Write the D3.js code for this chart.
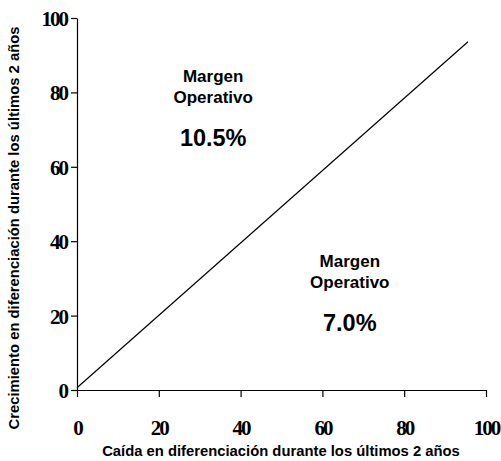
<!DOCTYPE html>
<html>
<head>
<meta charset="utf-8">
<script src="https://cdn.jsdelivr.net/npm/d3@7"></script>
<style>
  body { margin: 0; background: #fff; }
  .tick text { font-family: "Liberation Serif", serif; font-weight: bold; font-size: 21px; letter-spacing: -2px; fill: #000; }
  .axis-label { font-family: "Liberation Sans", Arial, sans-serif; font-weight: bold; font-size: 14.8px; fill: #000; }
  .note { font-family: "Liberation Sans", Arial, sans-serif; font-weight: bold; fill: #000; text-anchor: middle; }
</style>
</head>
<body>
<svg width="501" height="461"></svg>
<script>
const svg = d3.select('svg');

// data
const xTicks = [0, 20, 40, 60, 80, 100];
const yTicks = [0, 20, 40, 60, 80, 100];
const diagonal = [[0, 0.6], [95.6, 93.6]];
const noteLabels = ['Margen', 'Operativo'];
const noteValues = ['10.5%', '7.0%'];
const notePositions = [[33.3, 82.8], [66.7, 33.1]];   // data units: centre x, baseline y of "Margen"

const margin = { left: 77, right: 15, top: 18, bottom: 71 };
const innerWidth = 501 - margin.left - margin.right;
const innerHeight = 461 - margin.top - margin.bottom;

const g = svg.append('g')
  .attr('transform', `translate(${margin.left},${margin.top})`);

const xScale = d3.scaleLinear().domain([0, 100]).range([0, innerWidth]);
const yScale = d3.scaleLinear().domain([0, 100]).range([innerHeight, 0]);

// y-axis
const yAxisG = g.append('g')
  .call(d3.axisLeft(yScale).tickValues(yTicks).tickSize(6).tickSizeOuter(0).tickPadding(4));
yAxisG.selectAll('.tick text').attr('dy', '0.36em');

// x-axis
const xAxisG = g.append('g')
  .attr('transform', `translate(0,${innerHeight})`)
  .call(d3.axisBottom(xScale).tickValues(xTicks).tickSize(7).tickSizeOuter(0).tickPadding(23));

g.selectAll('.domain, .tick line').attr('stroke', '#000').attr('stroke-width', 1.2);

// axis titles
svg.append('text')
  .attr('class', 'axis-label')
  .attr('x', 281)
  .attr('y', 456)
  .attr('text-anchor', 'middle')
  .text('Caída en diferenciación durante los últimos 2 años');

svg.append('text')
  .attr('class', 'axis-label')
  .attr('transform', 'translate(19,228) rotate(-90)')
  .attr('text-anchor', 'middle')
  .text('Crecimiento en diferenciación durante los últimos 2 años');

// diagonal line
g.append('path')
  .datum(diagonal)
  .attr('fill', 'none')
  .attr('stroke', '#000')
  .attr('stroke-width', 1.2)
  .attr('d', d3.line().x(d => xScale(d[0])).y(d => yScale(d[1])));

// annotations
notePositions.forEach((p, i) => {
  const cx = xScale(p[0]);
  const cy = yScale(p[1]);
  noteLabels.forEach((t, j) => {
    g.append('text')
      .attr('class', 'note')
      .attr('x', cx)
      .attr('y', cy + j * 21)
      .attr('font-size', 17)
      .text(t);
  });
  g.append('text')
    .attr('class', 'note')
    .attr('x', cx)
    .attr('y', cy + 64)
    .attr('font-size', 23.5)
    .text(noteValues[i]);
});
</script>
</body>
</html>
